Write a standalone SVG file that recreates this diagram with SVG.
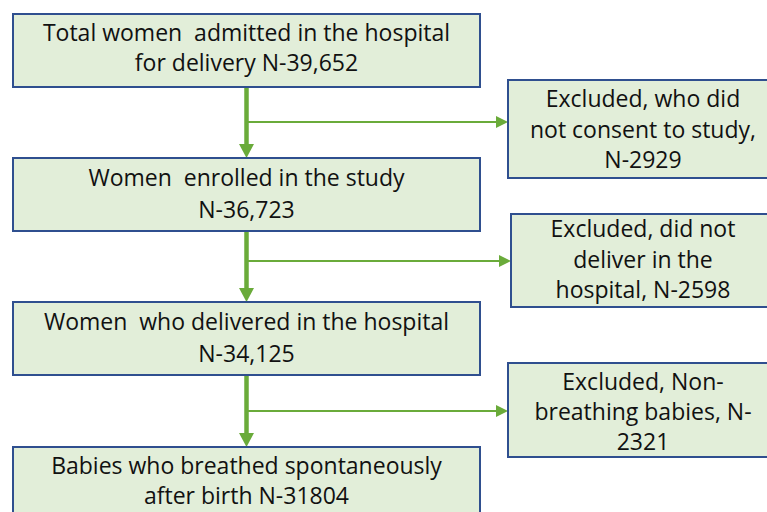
<svg xmlns="http://www.w3.org/2000/svg" width="767" height="512" viewBox="0 0 767 512">
<style>
.box{fill:#e2eed9;stroke:#2f4f8f;stroke-width:2}
.t{font-family:"Open Sans","Liberation Sans",sans-serif;font-size:23px;fill:#111111;text-anchor:middle;white-space:pre}
.v{stroke:#6aab3a;stroke-width:4.5;fill:none}
.h{stroke:#6aab3a;stroke-width:2;fill:none}
.ah{fill:#6aab3a}
</style>
<rect width="767" height="512" fill="#ffffff"/>
<g id="connectors">
<line class="v" x1="246.5" y1="87" x2="246.5" y2="146"/>
<polygon class="ah" points="239,144 254,144 246.5,158"/>
<line class="h" x1="248" y1="122" x2="498" y2="122"/>
<polygon class="ah" points="496,116 496,128 508,122"/>
<line class="v" x1="246.5" y1="231" x2="246.5" y2="290"/>
<polygon class="ah" points="239,288 254,288 246.5,302"/>
<line class="h" x1="248" y1="261" x2="501" y2="261"/>
<polygon class="ah" points="499,255 499,267 511,261"/>
<line class="v" x1="246.5" y1="375" x2="246.5" y2="435"/>
<polygon class="ah" points="239,433 254,433 246.5,447"/>
<line class="h" x1="248" y1="411" x2="498" y2="411"/>
<polygon class="ah" points="496,405 496,417 508,411"/>
</g>
<g id="n1">
<rect class="box" x="13" y="14" width="467" height="73"/>
<text class="t" x="246.5" y="41">Total women  admitted in the hospital</text>
<text class="t" x="246.5" y="71">for delivery N-39,652</text>
</g>
<g id="n2">
<rect class="box" x="13" y="158" width="467" height="73"/>
<text class="t" x="246.5" y="186">Women  enrolled in the study</text>
<text class="t" x="246.5" y="218">N-36,723</text>
</g>
<g id="n3">
<rect class="box" x="13" y="302" width="467" height="73"/>
<text class="t" x="246.5" y="330">Women  who delivered in the hospital</text>
<text class="t" x="246.5" y="362">N-34,125</text>
</g>
<g id="n4">
<rect class="box" x="13" y="447" width="467" height="80"/>
<text class="t" x="246.5" y="474">Babies who breathed spontaneously</text>
<text class="t" x="246.5" y="504">after birth N-31804</text>
</g>
<g id="e1">
<rect class="box" x="508" y="80" width="280" height="98"/>
<text class="t" x="643" y="107">Excluded, who did</text>
<text class="t" x="643" y="138">not consent to study,</text>
<text class="t" x="643" y="168">N-2929</text>
</g>
<g id="e2">
<rect class="box" x="511" y="214" width="280" height="93"/>
<text class="t" x="643" y="237">Excluded, did not</text>
<text class="t" x="643" y="268">deliver in the</text>
<text class="t" x="643" y="298">hospital, N-2598</text>
</g>
<g id="e3">
<rect class="box" x="508" y="363" width="280" height="94"/>
<text class="t" x="643" y="390">Excluded, Non-</text>
<text class="t" x="643" y="420">breathing babies, N-</text>
<text class="t" x="643" y="450">2321</text>
</g>
</svg>
